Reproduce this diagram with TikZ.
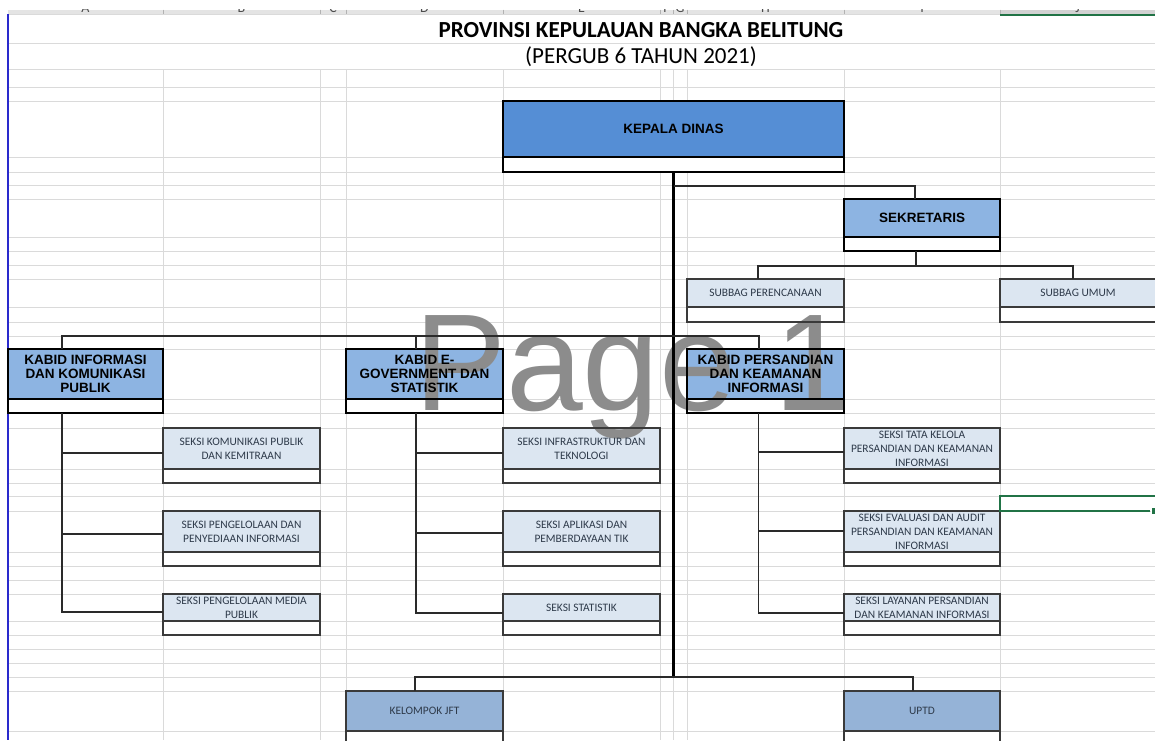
\documentclass[tikz,border=0pt]{standalone}
\usepackage{fontspec}
\newfontfamily\hfont{Liberation Sans}
\newfontfamily\cfont{Carlito}
\newfontfamily\wmfont{Liberation Sans}
\definecolor{gridgray}{HTML}{DADADA}
\definecolor{hdrgray}{HTML}{E4E4E4}
\definecolor{hdrsel}{HTML}{D2D2D2}
\definecolor{topc}{HTML}{558ED5}
\definecolor{midc}{HTML}{8DB4E2}
\definecolor{lowc}{HTML}{DCE6F1}
\definecolor{jftc}{HTML}{95B3D7}
\definecolor{smltext}{HTML}{2E3A4A}
\definecolor{connc}{HTML}{2A2A2A}
\definecolor{thinedge}{HTML}{3A3A3A}
\definecolor{selgreen}{HTML}{217346}
\definecolor{wmgray}{HTML}{8C8C8C}
\definecolor{pagebreak}{HTML}{2A2ACC}
\pgfdeclarelayer{background}
\pgfdeclarelayer{fills}
\pgfdeclarelayer{wm}
\pgfsetlayers{background,fills,wm,main}
\tikzset{
  gridl/.style={draw=gridgray, line width=1pt},
  conn/.style={draw=connc, line width=1.4pt},
  trunkline/.style={draw=black, line width=3.6pt},
  boxtext/.style={inner sep=0pt, outer sep=0pt, align=center},
  hdr/.style={font=\hfont\bfseries\fontsize{13.5}{14}\selectfont, text=black},
  sml/.style={font=\cfont\fontsize{11.4}{14}\selectfont, text=smltext},
  topfill/.style={fill=topc},
  midfill/.style={fill=midc},
  lowfill/.style={fill=lowc},
  jftfill/.style={fill=jftc},
  topedge/.style={draw=black, line width=2.6pt},
  midedge/.style={draw=black, line width=2.5pt},
  lowedge/.style={draw=thinedge, line width=1.3pt},
  jftedge/.style={draw=thinedge, line width=1.3pt},
}
% #1 name, #2 x left, #3 x right, #4 y top, #5 y fill bottom, #6 y bottom, #7 kind, #8 text style, #9 text
\newcommand\orgbox[9]{%
  \pgfmathsetmacro\obw{#3-#2}%
  \pgfmathsetmacro\obh{#5-#4}%
  \pgfmathsetmacro\obs{#6-#5}%
  \pgfmathsetmacro\obx{(#2+#3)/2}%
  \pgfmathsetmacro\oby{(#4+#5)/2}%
  \node[boxtext, #8, minimum width=\obw pt, minimum height=\obh pt] (#1) at (\obx,\oby) {#9};
  \node[boxtext, minimum width=\obw pt, minimum height=\obs pt, anchor=north] (#1-b) at (#1.south) {};
  \begin{pgfonlayer}{fills}
    \fill[#7fill] (#1.north west) rectangle (#1.south east);
    \fill[white] (#1-b.north west) rectangle (#1-b.south east);
  \end{pgfonlayer}
  \draw[#7edge] (#1.north west) rectangle (#1-b.south east) (#1.south west) -- (#1.south east);
}
\begin{document}
\begin{tikzpicture}[x=1pt,y=-1pt]
\useasboundingbox (0,0) rectangle (1155,740);
\begin{pgfonlayer}{background}
  \fill[white] (0,0) rectangle (1155,740);
  % column header strip (mostly scrolled away)
  \fill[hdrgray] (8,9.5) rectangle (1155,14);
  \fill[hdrsel] (1000,9.5) rectangle (1155,14);
  \begin{scope}
    \clip (8,9.5) rectangle (1155,14);
    \foreach \cx/\lt in {85.5/A,241.5/B,333/C,424.5/D,581.5/E,666.5/F,680/G,765.5/H,922/I,1077.5/J}
      \node[anchor=base, inner sep=0pt, text=black!70, font=\cfont\fontsize{14}{14}\selectfont] at (\cx,12.8) {\lt};
  \end{scope}
  \foreach \x in {163,320,346,503,660,673,687,844,1000}
    \draw[draw=black!30, line width=0.8pt] (\x,9.5) -- (\x,14);
  % grid
  \foreach \y in {14,43,69,87,101,157,172,185,199,237,251,265,279,307,322,336,349,399,413,428,469,483,496,511,552,566,580,594,621,635,649,663,677,691,731}
    \draw[gridl] (8,\y) -- (1155,\y);
  \foreach \x in {163,320,346,503,660,673,687,844,1000}
    \draw[gridl] (\x,69) -- (\x,740);
\end{pgfonlayer}
\draw[selgreen, line width=2pt] (1000,14.5) -- (1155,14.5);
\draw[pagebreak, line width=1.5pt] (8,14) -- (8,740);

% titles
\node[anchor=base, inner sep=0pt, font=\cfont\bfseries\fontsize{23}{23}\selectfont] (title) at (641,37.5) {PROVINSI KEPULAUAN BANGKA BELITUNG};
\node[anchor=base, inner sep=0pt, font=\cfont\fontsize{23}{23}\selectfont] (subtitle) at (641,63.5) {(PERGUB 6 TAHUN 2021)};

% boxes
\orgbox{kepala}{503}{844}{101}{157}{172}{top}{hdr}{KEPALA DINAS}
\orgbox{sek}{844}{1000}{199}{237}{251}{mid}{hdr}{SEKRETARIS}
\orgbox{subper}{687}{844}{279}{307}{322}{low}{sml}{SUBBAG PERENCANAAN}
\orgbox{subum}{1000}{1156}{279}{307}{322}{low}{sml}{SUBBAG UMUM}
\orgbox{k1}{8}{163}{349}{399}{413}{mid}{hdr}{KABID INFORMASI\\DAN KOMUNIKASI\\PUBLIK}
\orgbox{k2}{346}{503}{349}{399}{413}{mid}{hdr}{KABID E-\\GOVERNMENT DAN\\STATISTIK}
\orgbox{k3}{687}{844}{349}{399}{413}{mid}{hdr}{KABID PERSANDIAN\\DAN KEAMANAN\\INFORMASI}
\orgbox{a1}{163}{320}{428}{469}{483}{low}{sml}{SEKSI KOMUNIKASI PUBLIK\\DAN KEMITRAAN}
\orgbox{a2}{163}{320}{511}{552}{566}{low}{sml}{SEKSI PENGELOLAAN DAN\\PENYEDIAAN INFORMASI}
\orgbox{a3}{163}{320}{594}{621}{635}{low}{sml}{SEKSI PENGELOLAAN MEDIA\\PUBLIK}
\orgbox{b1}{503}{660}{428}{469}{483}{low}{sml}{SEKSI INFRASTRUKTUR DAN\\TEKNOLOGI}
\orgbox{b2}{503}{660}{511}{552}{566}{low}{sml}{SEKSI APLIKASI DAN\\PEMBERDAYAAN TIK}
\orgbox{b3}{503}{660}{594}{621}{635}{low}{sml}{SEKSI STATISTIK}
\orgbox{c1}{844}{1000}{428}{469}{483}{low}{sml}{SEKSI TATA KELOLA\\PERSANDIAN DAN KEAMANAN\\INFORMASI}
\orgbox{c2}{844}{1000}{511}{552}{566}{low}{sml}{SEKSI EVALUASI DAN AUDIT\\PERSANDIAN DAN KEAMANAN\\INFORMASI}
\orgbox{c3}{844}{1000}{594}{621}{635}{low}{sml}{SEKSI LAYANAN PERSANDIAN\\DAN KEAMANAN INFORMASI}
\orgbox{jft}{346}{503}{691}{731}{746}{jft}{sml}{KELOMPOK JFT}
\orgbox{uptd}{844}{1000}{691}{731}{746}{jft}{sml}{UPTD}

% watermark
\begin{pgfonlayer}{wm}
  \node[anchor=base west, inner sep=0pt, text=wmgray, font=\wmfont\fontsize{138}{138}\selectfont] (wmark) at (414,410) {Page 1};
\end{pgfonlayer}

% connectors
\coordinate (jsek) at (673.5,186);
\coordinate (kbus) at (673.5,336);
\coordinate (trunkend) at (673.5,677);
\draw[trunkline] (kepala-b.south) -- (trunkend);
\draw[conn] (jsek) -| ([xshift=-7pt]sek.north);
\draw[conn] ([xshift=-6pt]sek-b.south) -- ++(0,15) coordinate (sekbus);
\draw[conn] ([xshift=-7.5pt]subper.north) |- (sekbus) -| ([xshift=-5pt]subum.north);
\draw[conn] ([xshift=-23.5pt]k1.north) |- (kbus) -| ([xshift=-6.5pt]k3.north);
\draw[conn] ([xshift=-8.5pt]k2.north) -- ++(0,-13);
% kabid 1 branches
\draw[conn] ([xshift=-23.5pt]k1-b.south) |- ([yshift=-4.5pt]a3.west);
\draw[conn] ([yshift=-4.5pt]a1.west) -- +(-101,0);
\draw[conn] ([yshift=-2.5pt]a2.west) -- +(-101,0);
% kabid 2 branches
\draw[conn] ([xshift=-8.5pt]k2-b.south) |- ([yshift=-5.5pt]b3.west);
\draw[conn] ([yshift=-4.5pt]b1.west) -- +(-87,0);
\draw[conn] ([yshift=-1.5pt]b2.west) -- +(-87,0);
% kabid 3 branches
\draw[conn] ([xshift=-7pt]k3-b.south) |- ([yshift=-5.5pt]c3.west);
\draw[conn] ([yshift=-3.5pt]c1.west) -- +(-86,0);
\draw[conn] ([yshift=0.5pt]c2.west) -- +(-86,0);
% bottom
\draw[conn] ([xshift=-9.5pt]jft.north) |- (trunkend) -| ([xshift=-9pt]uptd.north);

% selected cell
\draw[selgreen, line width=2pt] (1155,496) -- (1000,496) -- (1000,511) -- (1150,511);
\filldraw[fill=selgreen, draw=white, line width=0.8pt] (1151,507.5) rectangle (1158,514.5);
\end{tikzpicture}
\end{document}
